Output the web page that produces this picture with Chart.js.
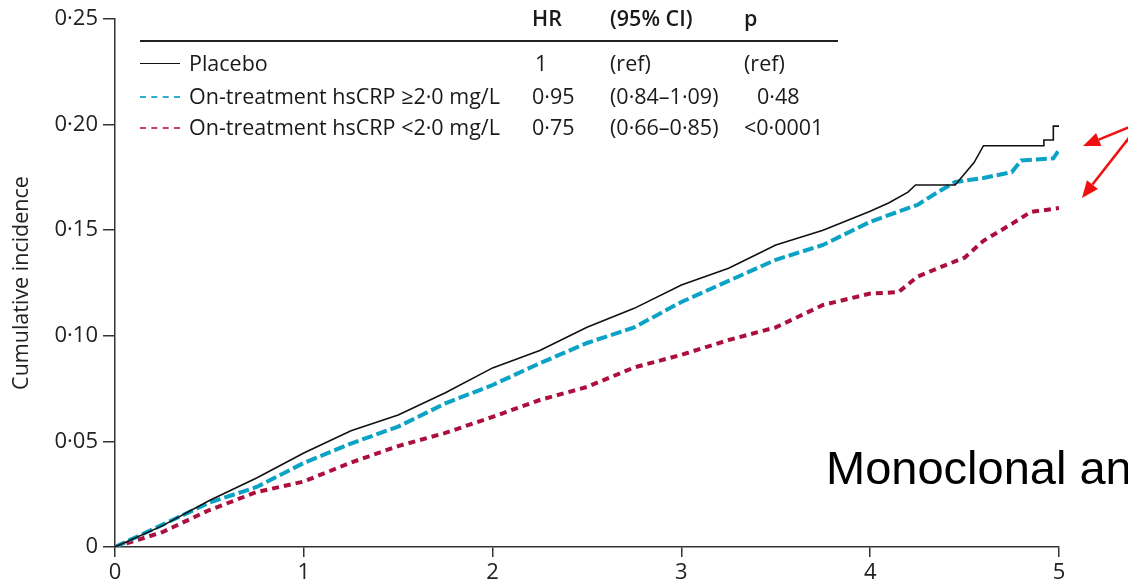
<!DOCTYPE html>
<html>
<head>
<meta charset="utf-8">
<script src="https://cdn.jsdelivr.net/npm/chart.js@4.4.0/dist/chart.umd.min.js"></script>
<style>
  body { margin: 0; background: #fff; }
  #wrap { position: relative; width: 1128px; height: 588px; overflow: hidden; }
  #chart { position: absolute; left: 0; top: 0; }
  .t { position: absolute; font-family: "Open Sans", sans-serif; font-size: 21.5px; color: #1a1a1a;
       white-space: nowrap; line-height: 1; transform: translateY(-55%); }
  .b { font-weight: 600; }
  .rule { position: absolute; left: 140px; top: 40px; width: 698px; height: 2px; background: #222; }
  .swatch { position: absolute; left: 140px; width: 40px; height: 0; }
  .note { position: absolute; left: 826px; top: 444px; font-family: "Liberation Sans", Arial, sans-serif;
          font-size: 47px; color: #000; white-space: nowrap; line-height: 1; }
</style>
</head>
<body>
<div id="wrap">
  <canvas id="chart" width="1128" height="588"></canvas>

  <div class="t b" style="left:532px;top:19px">HR</div>
  <div class="t b" style="left:610px;top:19px">(95% CI)</div>
  <div class="t b" style="left:744px;top:19px">p</div>
  <div class="rule"></div>

  <div class="swatch" style="top:63px;border-top:1.5px solid #111"></div>
  <div class="swatch" style="top:96px;border-top:2px dashed #2fb0d0"></div>
  <div class="swatch" style="top:127px;border-top:2px dashed #c8406a"></div>

  <div class="t" style="left:189px;top:64px">Placebo</div>
  <div class="t" style="left:189px;top:97px">On-treatment hsCRP ≥2·0 mg/L</div>
  <div class="t" style="left:189px;top:128px">On-treatment hsCRP &lt;2·0 mg/L</div>

  <div class="t" style="left:535px;top:64px">1</div>
  <div class="t" style="left:532px;top:97px">0·95</div>
  <div class="t" style="left:532px;top:128px">0·75</div>

  <div class="t" style="left:610px;top:64px">(ref)</div>
  <div class="t" style="left:610px;top:97px">(0·84–1·09)</div>
  <div class="t" style="left:610px;top:128px">(0·66–0·85)</div>

  <div class="t" style="left:744px;top:64px">(ref)</div>
  <div class="t" style="left:757px;top:97px">0·48</div>
  <div class="t" style="left:744px;top:128px">&lt;0·0001</div>

  <div class="note">Monoclonal an</div>
</div>

<script>
// values (years, cumulative incidence)
const placeboX = [0, 0.25, 0.5, 0.75, 1, 1.25, 1.5, 1.75, 2, 2.25, 2.5, 2.75, 3, 3.25, 3.5, 3.75, 4, 4.1, 4.2, 4.24, 4.45, 4.55, 4.6, 4.92, 4.92, 4.97, 4.97, 5];
const placeboY = [0, 0.010, 0.022, 0.0327, 0.0445, 0.055, 0.0625, 0.073, 0.0848, 0.093, 0.104, 0.113, 0.124, 0.132, 0.143, 0.150, 0.159, 0.163, 0.168, 0.1714, 0.1714, 0.182, 0.190, 0.190, 0.1927, 0.1927, 0.1993, 0.1993];

const highX = [0, 0.25, 0.5, 0.75, 1, 1.25, 1.5, 1.75, 2, 2.25, 2.5, 2.75, 3, 3.25, 3.5, 3.75, 4, 4.25, 4.35, 4.45, 4.6, 4.75, 4.8, 4.97, 5];
const highY = [0, 0.0105, 0.021, 0.0284, 0.0398, 0.049, 0.057, 0.068, 0.0767, 0.087, 0.0966, 0.104, 0.116, 0.126, 0.136, 0.143, 0.154, 0.162, 0.1676, 0.1728, 0.1747, 0.1775, 0.183, 0.184, 0.188];

const lowX = [0, 0.25, 0.5, 0.75, 1, 1.25, 1.5, 1.75, 2, 2.25, 2.5, 2.75, 3, 3.25, 3.5, 3.75, 4, 4.15, 4.25, 4.4, 4.5, 4.6, 4.75, 4.85, 5];
const lowY = [0, 0.007, 0.0175, 0.026, 0.031, 0.040, 0.0478, 0.054, 0.0616, 0.0696, 0.0758, 0.085, 0.091, 0.098, 0.104, 0.1146, 0.120, 0.1207, 0.128, 0.1335, 0.137, 0.145, 0.153, 0.1586, 0.1605];

const xTickLabels = ['0', '1', '2', '3', '4', '5'];
const yTickLabels = ['0', '0·05', '0·10', '0·15', '0·20', '0·25'];

const pts = (xs, ys) => xs.map((x, i) => ({ x: x, y: ys[i] }));

// red annotation arrows on the right edge
const arrows = {
  id: 'arrows',
  afterDraw(chart) {
    const ctx = chart.ctx;
    const list = [[1132, 126, 1083, 146], [1132, 134, 1082, 198]];
    ctx.save();
    ctx.strokeStyle = '#f01010';
    ctx.fillStyle = '#f01010';
    ctx.lineWidth = 2.5;
    list.forEach(([x1, y1, x2, y2]) => {
      const a = Math.atan2(y2 - y1, x2 - x1);
      const len = 17, w = 7;
      const bx = x2 - len * Math.cos(a), by = y2 - len * Math.sin(a);
      ctx.beginPath();
      ctx.moveTo(x1, y1);
      ctx.lineTo(bx, by);
      ctx.stroke();
      ctx.beginPath();
      ctx.moveTo(x2, y2);
      ctx.lineTo(bx + w * Math.sin(a), by - w * Math.cos(a));
      ctx.lineTo(bx - w * Math.sin(a), by + w * Math.cos(a));
      ctx.closePath();
      ctx.fill();
    });
    ctx.restore();
  }
};

const tickFont = { family: '"Open Sans", sans-serif', size: 22 };

new Chart(document.getElementById('chart'), {
  type: 'line',
  data: {
    datasets: [
      {
        label: 'Placebo',
        data: pts(placeboX, placeboY),
        borderColor: '#111',
        borderWidth: 1.6,
        pointRadius: 0
      },
      {
        label: 'On-treatment hsCRP ≥2·0 mg/L',
        data: pts(highX, highY),
        borderColor: '#0aa3c6',
        borderWidth: 4,
        borderDash: [11, 4],
        pointRadius: 0
      },
      {
        label: 'On-treatment hsCRP <2·0 mg/L',
        data: pts(lowX, lowY),
        borderColor: '#ac0f3e',
        borderWidth: 4,
        borderDash: [7, 5],
        pointRadius: 0
      }
    ]
  },
  options: {
    responsive: false,
    animation: false,
    layout: { padding: { top: 19, right: 69, left: 0, bottom: 0 } },
    plugins: { legend: { display: false }, tooltip: { enabled: false } },
    scales: {
      x: {
        type: 'linear',
        min: 0,
        max: 5,
        afterFit: s => { s.height = 41; },
        ticks: {
          stepSize: 1,
          padding: 3,
          color: '#222',
          font: tickFont,
          callback: (v, i) => xTickLabels[i]
        },
        grid: { drawOnChartArea: false, drawTicks: true, tickLength: 10, color: '#333', lineWidth: 1.5 },
        border: { color: '#333', width: 1.5 }
      },
      y: {
        min: 0,
        max: 0.25,
        afterFit: s => { s.width = 115; },
        ticks: {
          stepSize: 0.05,
          padding: 5,
          color: '#222',
          font: tickFont,
          callback: (v, i) => yTickLabels[i]
        },
        title: {
          display: true,
          text: 'Cumulative incidence',
          color: '#222',
          font: { family: '"Open Sans", sans-serif', size: 21.5 },
          padding: { top: 9, bottom: 0 }
        },
        grid: { drawOnChartArea: false, drawTicks: true, tickLength: 12, color: '#333', lineWidth: 1.5 },
        border: { color: '#333', width: 1.5 }
      }
    }
  },
  plugins: [arrows]
});
</script>
</body>
</html>
